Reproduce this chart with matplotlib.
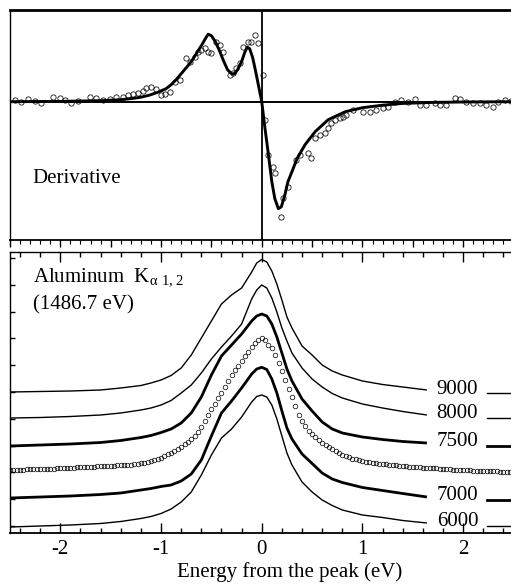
import numpy as np
import matplotlib
matplotlib.use('Agg')
import matplotlib.pyplot as plt
from matplotlib.ticker import MultipleLocator, FixedLocator

plt.rcParams['font.family'] = ['Liberation Serif', 'DejaVu Serif']
plt.rcParams['mathtext.fontset'] = 'custom'
plt.rcParams['mathtext.rm'] = 'Liberation Serif'
plt.rcParams['axes.unicode_minus'] = False

# ---- top panel: derivative (fit line + measured points) ----
deriv_x = [-2.5, -2.0, -1.6, -1.4, -1.28, -1.2, -1.11, -1.03, -0.95, -0.9,
           -0.85, -0.8, -0.75, -0.7, -0.65, -0.6, -0.56, -0.533, -0.5, -0.46,
           -0.42, -0.38, -0.34, -0.3, -0.27, -0.24, -0.2, -0.17, -0.145, -0.12,
           -0.09, -0.06, -0.03, 0.0, 0.03, 0.06, 0.1, 0.13, 0.165, 0.195,
           0.23, 0.26, 0.3, 0.35, 0.43, 0.53, 0.66, 0.83, 1.0, 1.2,
           1.4, 1.7, 2.0, 2.5]
deriv_fit = [0, 0.3, 1, 2, 3.3, 4.5, 6.7, 9.5, 13, 17,
             22, 28, 34, 40, 48, 56, 63, 67.5, 66, 60,
             51, 41, 32, 28, 28, 32, 40, 49, 54.5, 53,
             44, 30, 15, 0, -25, -48, -80, -97, -107, -105,
             -93, -80, -70, -57, -43, -30, -18, -10, -6, -3.5,
             -1.7, -0.7, -0.3, 0]

pts_x = [-2.453, -2.387, -2.321, -2.255, -2.188, -2.072, -2.006, -1.957, -1.890, -1.824,
         -1.708, -1.642, -1.576, -1.510, -1.443, -1.377, -1.328, -1.278, -1.228, -1.179,
         -1.146, -1.096, -1.046, -0.997, -0.964, -0.914, -0.864, -0.814, -0.748, -0.715,
         -0.665, -0.632, -0.599, -0.566, -0.533, -0.500, -0.450, -0.417, -0.384, -0.318,
         -0.285, -0.252, -0.219, -0.186, -0.136, -0.103, -0.070, -0.037, 0.013, 0.030,
         0.063, 0.113, 0.129, 0.195, 0.212, 0.261, 0.344, 0.377, 0.460, 0.493,
         0.526, 0.576, 0.626, 0.659, 0.692, 0.725, 0.775, 0.808, 0.841, 0.907,
         1.006, 1.072, 1.139, 1.205, 1.255, 1.321, 1.387, 1.453, 1.519, 1.569,
         1.635, 1.718, 1.768, 1.834, 1.917, 1.967, 2.033, 2.099, 2.165, 2.231,
         2.297, 2.347, 2.413, 2.480]
pts_y = [1.7, 0, 2.4, 1.0, -1.6, 5.0, 3.4, 1.7, -1.0, 1.0,
         5.0, 3.4, 1.7, 2.4, 5.0, 4.4, 6.7, 7.7, 8.4, 11.0,
         13.4, 15.0, 12.4, 6.7, 7.7, 10.0, 20.0, 21.7, 43.4, 40.0,
         45.0, 50.0, 51.7, 53.4, 50.0, 48.4, 60.0, 56.7, 50.0, 26.7,
         28.4, 33.4, 38.4, 55.0, 60.0, 60.0, 66.7, 58.4, 26.7, -18.3,
         -53.3, -65.0, -71.6, -115.0, -96.6, -85.0, -58.3, -53.3, -51.6, -56.6,
         -36.6, -33.3, -31.6, -26.6, -21.6, -18.3, -16.6, -15.0, -13.3, -8.3,
         -10.0, -10.0, -8.3, -6.6, -5.0, 0, 1.7, 0, 2.4, -3.3,
         -3.3, -1.0, -3.3, -3.3, 3.4, 2.4, 0, -1.0, -1.6, -3.3,
         -5.0, 0, 1.7, 0.5]

# ---- bottom panel: Al K-alpha spectra (intensity, arbitrary offsets) ----
energy = [-2.5, -2.2, -1.9, -1.6, -1.4, -1.2, -1.1, -1.0, -0.9, -0.8,
          -0.7, -0.6, -0.5, -0.4, -0.3, -0.2, -0.1, -0.05, 0.0, 0.05,
          0.1, 0.15, 0.2, 0.25, 0.3, 0.4, 0.5, 0.6, 0.7, 0.8,
          1.0, 1.2, 1.4, 1.64]
spec_9000 = [141, 141.5, 142, 143, 145, 147.5, 150, 153, 157.5, 165,
             178, 195, 212, 229, 238, 245, 261, 270, 273.5, 271,
             262, 249, 233, 216, 205, 187, 178, 168, 162, 158,
             152, 148.5, 146, 143]
spec_8000 = [115, 115.5, 116.5, 118, 120, 123, 125, 128, 132.5, 140,
             148, 160, 174, 186, 197, 209, 234, 243, 248, 245,
             235, 221, 205, 192, 180, 165, 154, 146, 139.5, 135,
             129, 125, 121.5, 118]
spec_7500 = [87, 88, 89, 90.5, 92.5, 95.5, 97.5, 100.5, 104, 110,
             120, 136, 158, 177, 188, 199, 212, 217, 219, 217,
             209, 196, 180, 164, 152, 134, 122, 111, 104, 100,
             96, 93.5, 91.5, 90]
spec_7000 = [35, 36, 37, 38.5, 40, 43, 44.5, 46.5, 48, 52,
             59, 73, 97, 120, 132, 145, 159, 164, 165.7, 163.5,
             154, 140, 122, 105, 94, 79, 69.5, 60, 54, 50.5,
             45.5, 42.5, 39.5, 36]
spec_6000 = [6, 7, 8, 9.5, 11.5, 14.5, 16.5, 19.5, 24, 31,
             41, 58, 78, 95, 104, 116, 131, 136.5, 138, 136,
             128, 114, 97, 80, 68, 51, 41, 33, 27.5, 23,
             18, 15.5, 12.5, 10]

# measured spectrum (open circles), sampled every 1/30 eV from -2.5 to 2.5
meas_energy = np.linspace(-2.5, 2.5, 151)
meas_int = [63.0, 63.2, 63.1, 63.4, 63.3, 63.6, 63.8, 63.7, 64.0, 64.2,
            64.1, 64.4, 64.5, 64.4, 64.8, 65.0, 64.9, 65.3, 65.5, 65.4,
            65.8, 66.0, 65.9, 66.3, 66.5, 66.4, 66.8, 67.0, 66.9, 67.3,
            67.4, 67.3, 67.7, 67.8, 67.8, 68.2, 68.4, 68.6, 69.0, 69.6,
            70.0, 70.6, 71.7, 72.6, 73.8, 75.4, 76.9, 78.6, 80.5, 82.3,
            84.2, 86.2, 88.6, 91.2, 94.0, 97.5, 101.5, 106.0, 112.0, 118.0,
            124.0, 129.5, 135.0, 140.5, 146.5, 152.5, 158.0, 163.0, 167.5, 172.0,
            177.0, 181.5, 186.0, 190.0, 193.5, 195.5, 193.0, 188.5, 185.0, 178.0,
            170.0, 162.0, 153.5, 144.5, 136.0, 127.0, 118.5, 112.5, 107.0, 102.5,
            99.0, 96.0, 93.2, 90.5, 88.3, 86.0, 84.0, 82.2, 80.2, 78.5,
            77.2, 75.8, 74.5, 73.7, 72.8, 72.0, 71.4, 70.8, 70.3, 69.8,
            69.5, 68.9, 68.7, 68.2, 68.0, 67.8, 67.3, 67.1, 66.8, 66.5,
            66.4, 66.0, 65.8, 65.5, 65.3, 64.9, 64.8, 64.6, 64.3, 64.1,
            64.0, 63.6, 63.5, 63.4, 63.1, 63.0, 62.9, 62.6, 62.5, 62.4,
            62.1, 62.1, 61.9, 61.7, 61.7, 61.6, 61.3, 61.3, 61.2, 61.0,
            61.0]

labels = ['9000', '8000', '7500', '7000', '6000']
spectra = [spec_9000, spec_8000, spec_7500, spec_7000, spec_6000]
widths = [1.0, 1.0, 2.0, 2.0, 1.0]

W, H = 511, 586
fig = plt.figure(figsize=(W / 100, H / 100), dpi=100)
ax1 = fig.add_axes([10 / W, 1 - 240 / H, 503.5 / W, 230 / H])
ax2 = fig.add_axes([10 / W, 1 - 533 / H, 503.5 / W, 281 / H])

# top panel
ax1.plot(deriv_x, deriv_fit, color='black', lw=2.1, zorder=3)
ax1.plot(pts_x, pts_y, 'o', ms=3.8, mfc='none', mec='black', mew=0.55, zorder=2)
ax1.axhline(0, color='black', lw=1.4, zorder=1)
ax1.axvline(0, color='black', lw=1.3, zorder=1)
ax1.set_xlim(-2.5, 2.5)
ax1.set_ylim(-138.3, 91.7)
ax1.set_yticks([])
ax1.xaxis.set_major_locator(MultipleLocator(0.5))
ax1.xaxis.set_minor_locator(MultipleLocator(0.1))
ax1.tick_params(axis='x', which='major', direction='out', length=5, width=1, labelbottom=False)
ax1.tick_params(axis='x', which='minor', direction='out', length=3, width=0.8)
ax1.spines['top'].set_linewidth(2.0)
ax1.spines['bottom'].set_linewidth(1.3)
ax1.spines['left'].set_linewidth(1.0)
ax1.text(-2.28, -81, 'Derivative', fontsize=15, va='baseline')

# bottom panel
for lab, spec, lw in zip(labels, spectra, widths):
    ax2.plot(energy, spec, color='black', lw=lw, solid_capstyle='butt')
    ax2.text(0.8475, spec[-1] - 3.5, lab, fontsize=15, va='baseline',
             transform=ax2.get_yaxis_transform())
    ax2.plot([0.947, 1.0], [spec[-1] - 2.5] * 2, color='black', lw=lw,
             transform=ax2.get_yaxis_transform(), clip_on=False)
ax2.plot(meas_energy, meas_int, 'o', ms=3.3, mfc='none', mec='black', mew=0.5)

ax2.set_xlim(-2.5, 2.5)
ax2.set_ylim(0, 281)
ax2.xaxis.set_major_locator(MultipleLocator(1))
ax2.xaxis.set_minor_locator(MultipleLocator(0.2))
ax2.yaxis.set_major_locator(FixedLocator(np.arange(7, 281, 26.8)))
ax2.tick_params(axis='x', which='major', direction='in', length=7, width=1,
                top=True, labelsize=15, pad=5)
ax2.tick_params(axis='x', which='minor', direction='in', length=3.5, width=1, top=True)
ax2.tick_params(axis='y', which='major', direction='in', length=3.5, width=1, labelleft=False)
for s in ax2.spines.values():
    s.set_linewidth(1.0)
ax2.spines['bottom'].set_linewidth(1.3)
ax2.set_xlabel('Energy from the peak (eV)', fontsize=15)
ax2.xaxis.set_label_coords(0.556, -0.105)
ax2.text(-2.27, 251, r'Aluminum  K$_{\mathrm{α\ 1,2}}$', fontsize=15, va='baseline')
ax2.text(-2.27, 224, '(1486.7 eV)', fontsize=15, va='baseline')

fig.savefig('out.png', dpi=100)
